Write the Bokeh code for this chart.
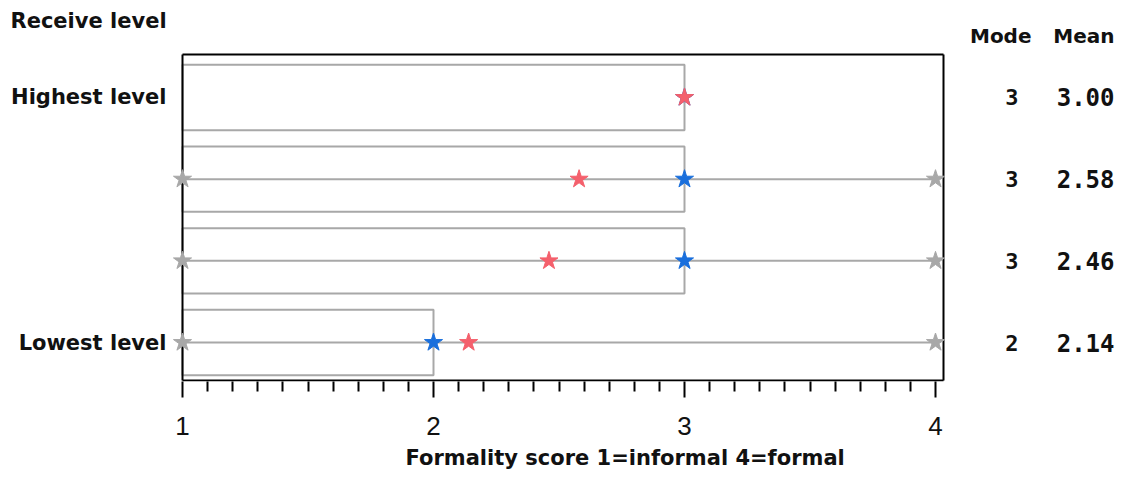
from bokeh.plotting import figure
from bokeh.models import Range1d, LinearAxis, FixedTicker, Title, ColumnDataSource
from bokeh.core.properties import value
from bokeh.embed import file_html
from bokeh.resources import INLINE
import numpy as np

# Rows from top (highest receive level) to bottom (lowest)
levels = ["Highest level", "", "", "Lowest level"]
row_pos = [4, 3, 2, 1]
q_low = [1, 1, 1, 1]
q_high = [3, 3, 3, 2]
score_min = [np.nan, 1, 1, 1]
score_max = [np.nan, 4, 4, 4]
mode = [3, 3, 3, 2]
mean = [3.00, 2.58, 2.46, 2.14]
x_ticks = [1, 2, 3, 4]

W, H = 1122, 477
PX_PER_UNIT = 251.0      # horizontal pixels per score unit
X1_PX = 182.0            # pixel column of score 1
ROW_PX = 81.67           # vertical pixels between rows
ROW1_PX = 342.0          # pixel row of the lowest row
FRAME_H = 381

x0 = 1 - X1_PX / PX_PER_UNIT
x1 = x0 + W / PX_PER_UNIT
y1 = 1 + ROW1_PX / ROW_PX
y0 = 1 - (FRAME_H - ROW1_PX) / ROW_PX


def px_x(px):
    return x0 + px / PX_PER_UNIT


def px_y(py):
    return y1 - py / ROW_PX


p = figure(width=W, height=H, output_backend="svg", toolbar_location=None,
           x_range=Range1d(x0, x1), y_range=Range1d(y0, y1),
           x_axis_type=None, y_axis_type=None,
           min_border_left=0, min_border_right=0, min_border_top=0,
           min_border_bottom=H - FRAME_H)
p.outline_line_color = None
p.grid.visible = False
p.background_fill_color = "white"
p.border_fill_color = "white"

src = ColumnDataSource(dict(
    y=row_pos, lo=q_low, hi=q_high, mn=score_min, mx=score_max,
    mode=mode, mean=mean,
    bot=[r - 0.4 for r in row_pos], top=[r + 0.4 for r in row_pos],
))

GRAY = "#a8a8a8"
# interquartile boxes
p.quad(left="lo", right="hi", bottom="bot", top="top", source=src,
       fill_color=None, line_color=GRAY, line_width=2)
# range lines
p.segment(x0="mn", y0="y", x1="mx", y1="y", source=src,
          line_color=GRAY, line_width=2)

# plot frame
fr_left, fr_right = 1, px_x(943)
fr_top, fr_bot = px_y(54), px_y(380)
p.segment(x0=[fr_left, fr_left, fr_right, fr_left],
          y0=[fr_bot, fr_top, fr_top, fr_bot],
          x1=[fr_left, fr_right, fr_right, fr_right],
          y1=[fr_top, fr_top, fr_bot, fr_bot],
          line_color="black", line_width=2)

# markers
p.scatter(x="mn", y="y", source=src, marker="star", size=19,
          fill_color=GRAY, line_color=GRAY)
p.scatter(x="mx", y="y", source=src, marker="star", size=19,
          fill_color=GRAY, line_color=GRAY)
p.scatter(x="mode", y="y", source=src, marker="star", size=19,
          fill_color="#1a6fdc", line_color="#1a6fdc")
p.scatter(x="mean", y="y", source=src, marker="star", size=19,
          fill_color="#f4606c", line_color="#f4606c")

BOLD_FONT = value("DejaVu Sans")
TXT = "#111111"

# row labels
p.text(x=[px_x(166)] * len(row_pos), y=row_pos, text=levels,
       text_font=BOLD_FONT, text_font_style="bold", text_font_size="21px",
       text_align="right", text_baseline="middle", text_color=TXT)
p.text(x=[px_x(10)], y=[px_y(20)], text=["Receive level"],
       text_font=BOLD_FONT, text_font_style="bold", text_font_size="21px",
       text_align="left", text_baseline="middle", text_color=TXT)

# statistics columns
p.text(x=[px_x(1031), px_x(1114)], y=[px_y(35)] * 2, text=["Mode", "Mean"],
       text_font=BOLD_FONT, text_font_style="bold", text_font_size="20px",
       text_align="right", text_baseline="middle", text_color=TXT)
p.text(x=[px_x(1018)] * len(row_pos), y=row_pos, text=[str(m) for m in mode],
       text_font=value("DejaVu Sans Mono"), text_font_style="bold",
       text_font_size="22px", text_align="right", text_baseline="middle",
       text_color=TXT)
p.text(x=[px_x(1114)] * len(row_pos), y=row_pos,
       text=[f"{m:.2f}" for m in mean],
       text_font=value("DejaVu Sans Mono"), text_font_style="bold",
       text_font_size="24px", text_align="right", text_baseline="middle",
       text_color=TXT)

# x axis
minor = [1 + i / 10 for i in range(1, 30) if i % 10 != 0]
ax = LinearAxis(ticker=FixedTicker(ticks=x_ticks, minor_ticks=minor))
ax.axis_line_color = None
ax.major_tick_in = 0
ax.major_tick_out = 16
ax.minor_tick_in = 0
ax.minor_tick_out = 10
ax.major_tick_line_color = "black"
ax.major_tick_line_width = 2
ax.minor_tick_line_color = "black"
ax.minor_tick_line_width = 2
ax.major_label_text_font = "Liberation Sans"
ax.major_label_text_font_size = "26px"
ax.major_label_text_color = TXT
ax.major_label_standoff = 19
p.add_layout(ax, "below")

xt = Title(text="Formality score 1=informal 4=formal", align="left",
           offset=405, text_font="DejaVu Sans", text_font_style="bold",
           text_font_size="21px", text_color=TXT, standoff=12)
p.add_layout(xt, "below")

open("out.html", "w").write(file_html(p, INLINE))
